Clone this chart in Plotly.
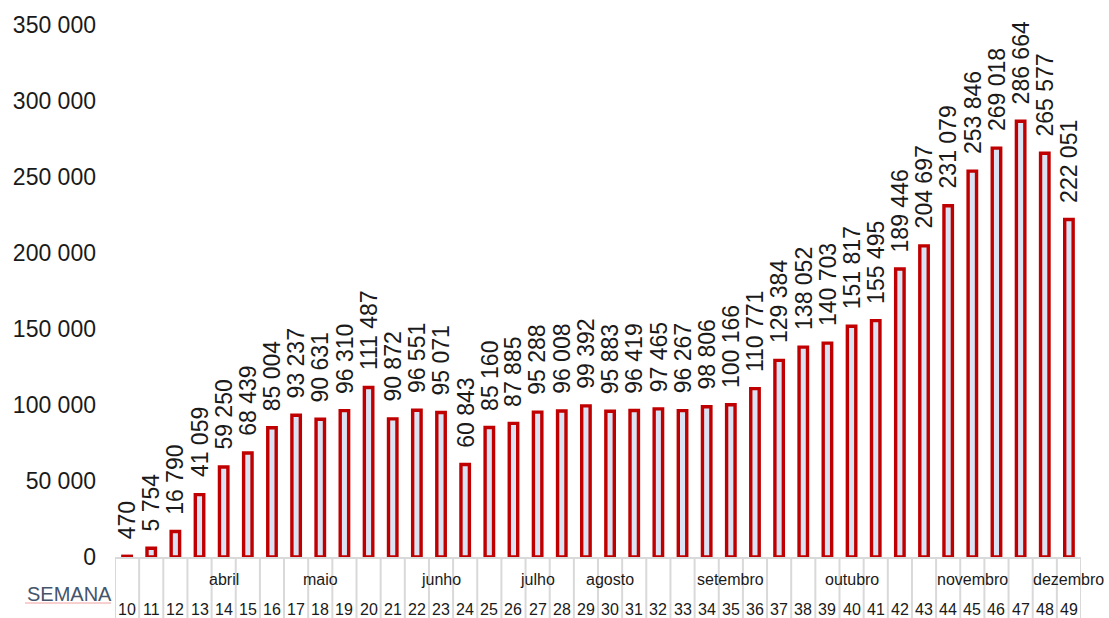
import plotly.graph_objects as go

# Weekly counts by epidemiological week
weeks = list(range(10, 50))
values = [470, 5754, 16790, 41059, 59250, 68439, 85004, 93237, 90631, 96310,
          111487, 90872, 96551, 95071, 60843, 85160, 87885, 95288, 96008, 99392,
          95883, 96419, 97465, 96267, 98806, 100166, 110771, 129384, 138052, 140703,
          151817, 155495, 189446, 204697, 231079, 253846, 269018, 286664, 265577, 222051]

# Month names and the week under which each is written
months = ["abril", "maio", "junho", "julho", "agosto", "setembro", "outubro", "novembro", "dezembro"]
month_weeks = [14, 18, 23, 27, 30, 35, 40, 45, 49]

y_ticks = [0, 50000, 100000, 150000, 200000, 250000, 300000, 350000]

W, H = 1109, 618
ML, MR, MT, MB = 115, 28, 25, 61
plot_h = H - MT - MB

def fmt(v):
    return f"{v:,}".replace(",", " ")

fig = go.Figure()
fig.add_trace(go.Bar(
    x=weeks, y=values, width=0.35,
    marker=dict(color="#dae3f3", line=dict(color="#c00000", width=3.4)),
    hoverinfo="x+y",
))

annotations = []
# Value labels, rotated, above each bar
for w, v in zip(weeks, values):
    annotations.append(dict(
        x=w, y=v, xref="x", yref="y", text=fmt(v), showarrow=False,
        textangle=-90, xanchor="center", yanchor="bottom", yshift=15,
        font=dict(family="Liberation Sans, Arial", size=23, color="#1a1a1a"),
    ))

def py(px):
    # pixel row -> paper y coordinate
    return (H - MB - px) / plot_h

# Week numbers along the bottom row
for w in weeks:
    annotations.append(dict(
        x=w, y=py(609), xref="x", yref="paper", text=str(w), showarrow=False,
        xanchor="center", yanchor="middle",
        font=dict(family="Liberation Sans, Arial", size=16, color="#1a1a1a"),
    ))

# Month row
for m, w in zip(months, month_weeks):
    annotations.append(dict(
        x=w, y=py(579), xref="x", yref="paper", text=m, showarrow=False,
        xanchor="center", yanchor="middle",
        font=dict(family="Liberation Sans, Arial", size=16, color="#1a1a1a"),
    ))

# Axis title at the left of the category table
annotations.append(dict(
    x=(25 - ML) / (W - ML - MR), y=py(594), xref="paper", yref="paper",
    text="SEMANA", showarrow=False, xanchor="left", yanchor="middle",
    font=dict(family="Liberation Sans, Arial", size=20, color="#44546a"),
))

# Category table separators below the axis
shapes = []
for k in range(len(weeks) + 1):
    xb = weeks[0] - 0.5 + k
    shapes.append(dict(
        type="line", xref="x", yref="paper", x0=xb, x1=xb, y0=0, y1=-MB / plot_h,
        line=dict(color="#d9d9d9", width=2), layer="below",
    ))
# Spell-check underline under the axis title
shapes.append(dict(
    type="line", xref="paper", yref="paper",
    x0=(25 - ML) / (W - ML - MR), x1=(111 - ML) / (W - ML - MR),
    y0=py(603), y1=py(603), line=dict(color="#f2a0a0", width=1),
))

fig.update_layout(
    width=W, height=H,
    margin=dict(l=ML, r=MR, t=MT, b=MB),
    paper_bgcolor="white", plot_bgcolor="white",
    separators=", ",
    showlegend=False,
    annotations=annotations,
    shapes=shapes,
    xaxis=dict(range=[weeks[0] - 0.5, weeks[-1] + 0.5], showticklabels=False,
               showgrid=False, zeroline=False, showline=True,
               linecolor="#d9d9d9", linewidth=2, ticks=""),
    yaxis=dict(range=[0, 350000], tickvals=y_ticks, tickformat=",d",
               showgrid=False, zeroline=False, showline=False,
               ticklabelstandoff=18,
               tickfont=dict(family="Liberation Sans, Arial", size=23, color="#1a1a1a")),
)

fig.write_html("out.html")
